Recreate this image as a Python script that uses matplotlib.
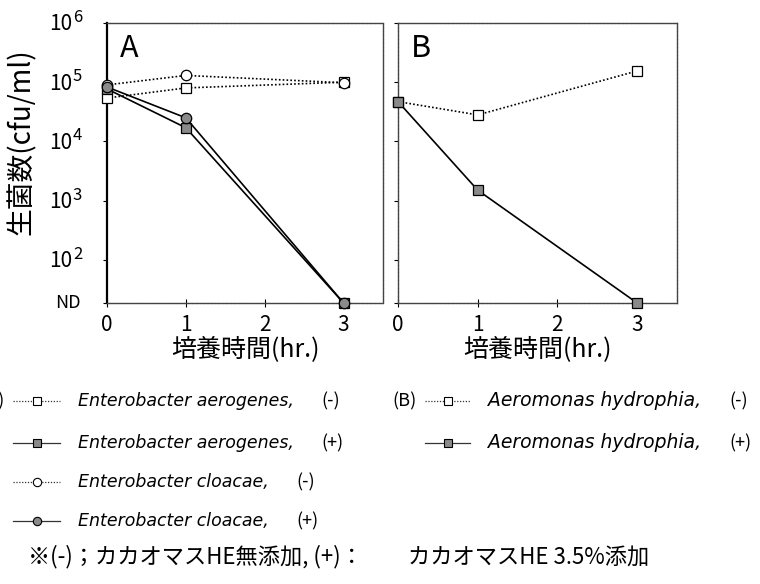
import matplotlib
matplotlib.use("Agg")
import matplotlib.pyplot as plt
import matplotlib.transforms as mtransforms
from matplotlib.lines import Line2D
from matplotlib.text import Annotation

plt.rcParams["font.family"] = ["Noto Sans CJK JP", "DejaVu Sans"]

# detection limit, drawn on the bottom axis
ND = 10 ** 1.27

hours = [0, 1, 3]

# panel A: Enterobacter
aerogenes_minus = [5.4e4, 8.0e4, 1.0e5]
aerogenes_plus = [7.7e4, 1.7e4, ND]
cloacae_minus = [9.0e4, 1.3e5, 9.8e4]
cloacae_plus = [8.3e4, 2.5e4, ND]

# panel B: Aeromonas
hydrophia_minus = [4.7e4, 2.8e4, 1.55e5]
hydrophia_plus = [4.7e4, 1.5e3, ND]

decades = [2, 3, 4, 5, 6]
x_ticks = [0, 1, 2, 3]

W, H = 760, 584
OPEN = "white"
SHADED = "#8a8a8a"
DOTTED = (0, (1, 1.3))
SPINE_LS = (0, (2, 0.8))


def style_axes(ax, solid_left):
    ax.set_yscale("log")
    ax.set_xlim(0, 3.5)
    ax.set_ylim(ND, 1e6)
    ax.minorticks_off()
    ax.set_yticks([ND] + [10.0 ** d for d in decades])
    ax.tick_params(axis="y", direction="out", length=3, width=0.8,
                   labelleft=False)
    ax.set_xticks(x_ticks)
    ax.set_xticklabels([str(t) for t in x_ticks], fontsize=15)
    ax.tick_params(axis="x", direction="inout", length=6, width=0.8, pad=5)
    for side in ["top", "right", "bottom", "left"]:
        sp = ax.spines[side]
        sp.set_color("#444444")
        sp.set_linewidth(1.0)
        sp.set_linestyle(SPINE_LS)
    if solid_left:
        ax.spines["left"].set_linestyle("-")
        ax.spines["left"].set_color("black")
        ax.spines["left"].set_linewidth(1.6)
    ax.set_xlabel("培養時間(hr.)", fontsize=18, labelpad=0)


def draw_series(ax, values, marker, filled):
    ax.plot(hours, values,
            linestyle="-" if filled else DOTTED,
            color="black", lw=1.2,
            marker=marker, ms=7.5, mew=0.9,
            mfc=SHADED if filled else OPEN, mec="black",
            clip_on=False, zorder=3)


fig = plt.figure(figsize=(W / 100, H / 100), dpi=100)
ax_a = fig.add_axes([107 / W, 1 - 303 / H, 276 / W, 280 / H])
ax_b = fig.add_axes([398 / W, 1 - 303 / H, 279 / W, 280 / H])

style_axes(ax_a, solid_left=True)
style_axes(ax_b, solid_left=False)

draw_series(ax_a, aerogenes_minus, "s", False)
draw_series(ax_a, cloacae_minus, "o", False)
draw_series(ax_a, aerogenes_plus, "s", True)
draw_series(ax_a, cloacae_plus, "o", True)

draw_series(ax_b, hydrophia_minus, "s", False)
draw_series(ax_b, hydrophia_plus, "s", True)

for ax, letter in [(ax_a, "A"), (ax_b, "B")]:
    ax.text(0.045, 0.965, letter, transform=ax.transAxes, fontsize=22,
            va="top", ha="left")

# y tick labels for panel A: 10 with a raised exponent, and ND
trans = mtransforms.blended_transform_factory(ax_a.transAxes, ax_a.transData)
for d in decades:
    ax_a.annotate("10", xy=(0, 10.0 ** d), xycoords=trans,
                  xytext=(-25, -1), textcoords="offset points",
                  ha="right", va="center", fontsize=15)
    ax_a.annotate(str(d), xy=(0, 10.0 ** d), xycoords=trans,
                  xytext=(-24.5, 4), textcoords="offset points",
                  ha="left", va="center", fontsize=12)
ax_a.annotate("ND", xy=(0, ND), xycoords=trans,
              xytext=(-19, 0), textcoords="offset points",
              ha="right", va="center", fontsize=13)

fig.text(22 / W, 1 - 142 / H, "生菌数(cfu/ml)", rotation=90,
         ha="center", va="center", fontsize=20)


# legend rows under the panels
def legend_entry(x0, x1, y, marker, filled):
    yy = 1 - y / H
    fig.add_artist(Line2D([x0 / W, x1 / W], [yy, yy],
                          linestyle="-" if filled else DOTTED,
                          color="#333333", lw=0.9,
                          transform=fig.transFigure))
    fig.add_artist(Line2D([(x0 + x1) / 2 / W], [yy], marker=marker,
                          ms=6, mew=0.8, mfc=SHADED if filled else OPEN,
                          mec="black", linestyle="none",
                          transform=fig.transFigure))


def legend_text(x, y, name, sign, size):
    label = fig.text(x / W, 1 - y / H, name, ha="left", va="center",
                     fontsize=size, style="italic", family="DejaVu Sans")
    # the (+)/(-) mark sits a fixed gap after the species name
    fig.add_artist(Annotation(
        sign, xy=(1, 0.5), xycoords=label, xytext=(20, 0),
        textcoords="offset points", ha="left", va="center", fontsize=13))


rows_y = [401, 443, 482, 521]
entries_a = [
    ("s", False, "Enterobacter aerogenes,", "(-)"),
    ("s", True, "Enterobacter aerogenes,", "(+)"),
    ("o", False, "Enterobacter cloacae,", "(-)"),
    ("o", True, "Enterobacter cloacae,", "(+)"),
]
for y, (m, filled, name, sign) in zip(rows_y, entries_a):
    legend_entry(13, 60, y, m, filled)
    legend_text(78, y, name, sign, 12.5)

entries_b = [
    ("s", False, "Aeromonas hydrophia,", "(-)"),
    ("s", True, "Aeromonas hydrophia,", "(+)"),
]
for y, (m, filled, name, sign) in zip(rows_y[:2], entries_b):
    legend_entry(425, 470, y, m, filled)
    legend_text(488, y, name, sign, 13.5)

fig.text(5 / W, 1 - rows_y[0] / H, "(A)", ha="right", va="center",
         fontsize=13)
fig.text(392 / W, 1 - rows_y[0] / H, "(B)", ha="left", va="center",
         fontsize=13)

# footnote on the two conditions
fig.text(28 / W, 1 - 557 / H, "※(-)；カカオマスHE無添加, (+)：",
         ha="left", va="center", fontsize=16)
fig.text(408 / W, 1 - 557 / H, "カカオマスHE 3.5%添加",
         ha="left", va="center", fontsize=16)

fig.savefig("out.png", dpi=100)
